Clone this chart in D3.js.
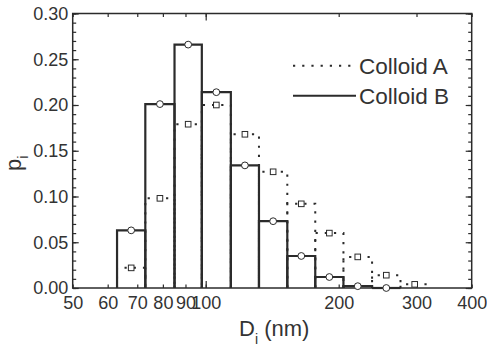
<!DOCTYPE html>
<html>
<head>
<meta charset="utf-8">
<script src="https://cdn.jsdelivr.net/npm/d3@7"></script>
<style>
body{margin:0;background:#fff;}
svg{display:block;}
</style>
</head>
<body>
<svg id="chart" width="487" height="355"></svg>
<script>
// bin edges (nm) and fractions
var binEdges=[63,73,85,98,114,132,153,177,205,238,276,320];
var colloidA=[0.022,0.098,0.179,0.200,0.168,0.127,0.092,0.060,0.034,0.014,0.004];
var colloidB=[0.063,0.201,0.266,0.214,0.134,0.073,0.035,0.012,0.002,0.000];
var xTickValues=[50,60,70,80,90,100,200,300,400];
var yTickValues=[0,0.05,0.10,0.15,0.20,0.25,0.30];
var legendLabels=['Colloid A','Colloid B'];

var svg=d3.select('#chart');
// note: 'top' is taken by window.top, so prefix everything
var plotLeft=72.7,plotRight=471.7,plotTop=13.5,plotBottom=288;
var lineColor='#2b2b2b';
var textColor='#333';
var family='"Liberation Sans", Arial, sans-serif';

var x=d3.scaleLog().domain([50,400]).range([plotLeft,plotRight]);
var y=d3.scaleLinear().domain([0,0.30]).range([plotBottom,plotTop]);

function bins(values){
    return values.map(function(v,i){
        return {x0:binEdges[i],x1:binEdges[i+1],v:v};
    });
}
function barPath(d){
    return 'M'+x(d.x0)+','+y(0)+'V'+y(d.v)+'H'+x(d.x1)+'V'+y(0);
}
function center(d){
    return (x(d.x0)+x(d.x1))/2;
}

var binsA=bins(colloidA);
var binsB=bins(colloidB);

// bars
svg.append('g').selectAll('path')
    .data(binsA)
    .enter()
    .append('path')
    .attr('d',barPath)
    .attr('fill','none')
    .attr('stroke',lineColor)
    .attr('stroke-width',2)
    .attr('stroke-dasharray','2.2,7');

svg.append('g').selectAll('path')
    .data(binsB)
    .enter()
    .append('path')
    .attr('d',barPath)
    .attr('fill','none')
    .attr('stroke',lineColor)
    .attr('stroke-width',2.2);

// frame + axes
var g=svg.append('g').attr('font-family',family);

g.append('rect')
    .attr('x',plotLeft).attr('y',plotTop)
    .attr('width',plotRight-plotLeft).attr('height',plotBottom-plotTop)
    .attr('fill','none')
    .attr('stroke',lineColor)
    .attr('stroke-width',1.5);

g.append('g')
    .attr('transform','translate(0,'+plotBottom+')')
    .call(d3.axisBottom(x).tickValues(xTickValues).tickSize(-3.5).tickPadding(8.5).tickFormat(d3.format('d')));
g.append('g')
    .attr('transform','translate(0,'+plotBottom+')')
    .call(d3.axisBottom(x).tickValues([100]).tickSize(-7).tickFormat(''));
g.append('g')
    .attr('transform','translate(0,'+plotTop+')')
    .call(d3.axisTop(x).tickValues(xTickValues).tickSize(-3.5).tickFormat(''));
g.append('g')
    .attr('transform','translate(0,'+plotTop+')')
    .call(d3.axisTop(x).tickValues([100]).tickSize(-7).tickFormat(''));

var yMinor=d3.range(0,0.3001,0.01);
g.append('g')
    .attr('transform','translate('+plotLeft+',0)')
    .call(d3.axisLeft(y).tickValues(yTickValues).tickSize(-6).tickPadding(4.5).tickFormat(d3.format('.2f')));
g.append('g')
    .attr('transform','translate('+plotLeft+',0)')
    .call(d3.axisLeft(y).tickValues(yMinor).tickSize(-3.5).tickFormat(''));
g.append('g')
    .attr('transform','translate('+plotRight+',0)')
    .call(d3.axisRight(y).tickValues(yTickValues).tickSize(-6).tickFormat(''));
g.append('g')
    .attr('transform','translate('+plotRight+',0)')
    .call(d3.axisRight(y).tickValues(yMinor).tickSize(-3.5).tickFormat(''));

g.selectAll('.domain').remove();
g.selectAll('.tick line')
    .attr('stroke',lineColor)
    .attr('stroke-width',1.2);
g.selectAll('.tick text')
    .attr('fill',textColor)
    .attr('font-size',18);

// markers
svg.append('g').selectAll('rect')
    .data(binsA)
    .enter()
    .append('rect')
    .attr('x',function(d){return center(d)-2.8;})
    .attr('y',function(d){return y(d.v)-2.8;})
    .attr('width',5.6)
    .attr('height',5.6)
    .attr('fill','#fff')
    .attr('stroke',lineColor)
    .attr('stroke-width',1);

svg.append('g').selectAll('circle')
    .data(binsB)
    .enter()
    .append('circle')
    .attr('cx',center)
    .attr('cy',function(d){return y(d.v);})
    .attr('r',3.4)
    .attr('fill','#fff')
    .attr('stroke',lineColor)
    .attr('stroke-width',1);

// legend
var legend=svg.append('g').attr('font-family',family);
var legendY=[65.7,95.7];
legend.selectAll('line')
    .data(legendLabels)
    .enter()
    .append('line')
    .attr('x1',293)
    .attr('x2',356)
    .attr('y1',function(d,i){return legendY[i];})
    .attr('y2',function(d,i){return legendY[i];})
    .attr('stroke',lineColor)
    .attr('stroke-width',2)
    .attr('stroke-dasharray',function(d,i){return i==0?'2.2,7':null;});
legend.selectAll('text')
    .data(legendLabels)
    .enter()
    .append('text')
    .attr('x',359)
    .attr('y',function(d,i){return legendY[i]+8;})
    .attr('font-size',22.5)
    .attr('fill',textColor)
    .text(function(d){return d;});

// axis titles
var xTitle=svg.append('text')
    .attr('x',239)
    .attr('y',336)
    .attr('font-family',family)
    .attr('font-size',22)
    .attr('fill',textColor);
xTitle.append('tspan').text('D');
xTitle.append('tspan').attr('dy',8).attr('font-size',14).text('i');
xTitle.append('tspan').attr('dy',-8).text(' (nm)');

var yTitle=svg.append('text')
    .attr('transform','translate(20.7,171) rotate(-90)')
    .attr('font-family',family)
    .attr('font-size',22)
    .attr('fill',textColor);
yTitle.append('tspan').text('p');
yTitle.append('tspan').attr('dy',7).attr('font-size',14).text('i');
</script>
</body>
</html>
